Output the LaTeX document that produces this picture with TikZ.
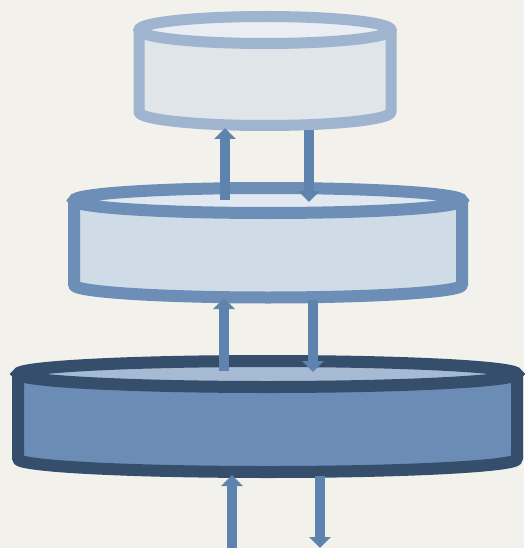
\documentclass[tikz,border=0pt]{standalone}
\usetikzlibrary{arrows.meta}
\definecolor{bg}{RGB}{243,241,236}
\definecolor{topstroke}{RGB}{158,180,207}
\definecolor{topbody}{RGB}{224,229,234}
\definecolor{toplid}{RGB}{234,237,241}
\definecolor{midstroke}{RGB}{109,143,183}
\definecolor{midbody}{RGB}{207,219,230}
\definecolor{midlid}{RGB}{225,232,240}
\definecolor{botstroke}{RGB}{52,78,108}
\definecolor{botbody}{RGB}{107,141,181}
\definecolor{botlid}{RGB}{167,186,211}
\definecolor{arrowc}{RGB}{94,131,174}
\newcommand\mycyl[9]{%
  % #1 cx, #2 ytop, #3 ybot, #4 rx, #5 ry, #6 linewidth, #7 stroke, #8 body, #9 lid
  \fill[#8] ({#1-#4},{-#2}) -- ({#1-#4},{-#3}) arc[start angle=180,end angle=360,x radius=#4,y radius=#5]
     -- ({#1+#4},{-#2}) arc[start angle=0,end angle=180,x radius=#4,y radius=#5] -- cycle;
  \fill[#9] (#1,{-#2}) ellipse[x radius=#4,y radius=#5];
  \draw[#7,line width=#6,line join=round] ({#1-#4},{-#2}) -- ({#1-#4},{-#3})
     arc[start angle=180,end angle=360,x radius=#4,y radius=#5] -- ({#1+#4},{-#2});
  \draw[#7,line width=#6] (#1,{-#2}) ellipse[x radius=#4,y radius=#5];
}
\tikzset{flowarrow/.style={arrowc,line width=10pt,-{Triangle[width=21pt,length=11pt]}}}
\begin{document}
\begin{tikzpicture}[x=1pt,y=1pt]
\fill[bg] (0,0) rectangle (524,-548);
\useasboundingbox (0,0) rectangle (524,-548);
% cylinders
\mycyl{265}{30}{112}{126}{13.5}{11pt}{topstroke}{topbody}{toplid}
\mycyl{268}{200.5}{285}{194}{12.5}{12pt}{midstroke}{midbody}{midlid}
\mycyl{267.5}{374}{459}{249.5}{13}{12pt}{botstroke}{botbody}{botlid}
% arrow end points
\coordinate (u1s) at (225,-200);
\coordinate (u1e) at (225,-128);
\coordinate (d1s) at (309,-130);
\coordinate (d1e) at (309,-202);
\coordinate (u2s) at (224,-371);
\coordinate (u2e) at (224,-298);
\coordinate (d2s) at (313,-300);
\coordinate (d2e) at (313,-372);
\coordinate (u3s) at (232,-548);
\coordinate (u3e) at (232,-475);
\coordinate (d3s) at (320,-476);
\coordinate (d3e) at (320,-548);
\draw[flowarrow] (u1s) -- (u1e);
\draw[flowarrow] (d1s) -- (d1e);
\draw[flowarrow] (u2s) -- (u2e);
\draw[flowarrow] (d2s) -- (d2e);
\draw[flowarrow] (u3s) -- (u3e);
\draw[flowarrow] (d3s) -- (d3e);
\end{tikzpicture}
\end{document}
